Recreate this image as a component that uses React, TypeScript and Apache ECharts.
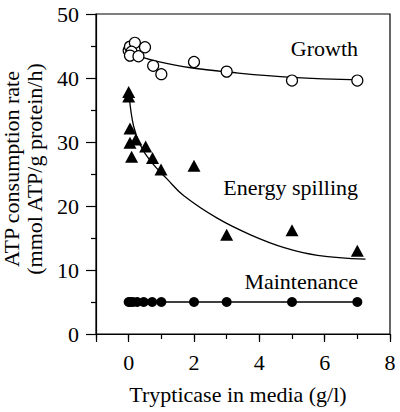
import React, { useEffect, useRef } from "react";
import * as echarts from "echarts";

// Growth (open circles)
const growthX = [0, 0.04, 0.19, 0.09, 0.04, 0.3, 0.5, 0.75, 1, 2, 3, 5, 7];
const growthY = [44.3, 44.9, 45.5, 44.1, 43.5, 43.4, 44.8, 41.9, 40.6, 42.5, 41.0, 39.6, 39.6];
// Growth fitted curve
const growthCurveX = [0.05, 0.3, 0.87, 1.9, 3.1, 5, 7.1];
const growthCurveY = [44.0, 43.4, 42.6, 41.6, 40.9, 40.1, 39.7];

// Energy spilling (filled triangles)
const energyX = [0, 0, 0.04, 0.04, 0.22, 0.52, 0.09, 0.73, 0.99, 2, 3, 5, 7];
const energyY = [37.8, 37.1, 32.1, 29.9, 30.4, 29.3, 27.7, 27.5, 25.7, 26.3, 15.5, 16.2, 13.0];
// Energy spilling fitted curve
const energyCurveX = [0.02, 0.15, 0.36, 0.67, 1.18, 1.69, 2.71, 3.73, 4.76, 5.78, 7.25];
const energyCurveY = [37.0, 32.5, 29.5, 27.0, 24.2, 21.6, 18.1, 15.5, 13.5, 12.3, 11.7];

// Maintenance (filled circles)
const maintX = [0, 0.05, 0.13, 0.26, 0.46, 0.72, 1, 2, 3, 5, 7];
const maintY = [5, 5, 5, 5, 5, 5, 5, 5, 5, 5, 5];

const xLabelValues = [0, 2, 4, 6, 8];
const seriesLabels = ["Growth", "Energy spilling", "Maintenance"];
const xTitle = "Trypticase in media (g/l)";
const yTitle = "ATP consumption rate\n(mmol ATP/g protein/h)";

const FONT = "'Liberation Serif', 'Times New Roman', serif";

const zip = (xs: number[], ys: number[]) => xs.map((x, i) => [x, ys[i]]);

export default function App() {
  const ref = useRef<HTMLDivElement>(null);
  useEffect(() => {
    const chart = echarts.init(ref.current!, null, { renderer: "svg" });
    const axisLine = { show: true, onZero: false, lineStyle: { color: "#000", width: 1.2 } };
    const txt = { fontFamily: FONT, fontSize: 22, color: "#000", lineHeight: 24 };
    chart.setOption({
      animation: false,
      backgroundColor: "#fff",
      textStyle: { fontFamily: FONT, color: "#000" },
      grid: {
        left: 96,
        right: 10,
        top: 14,
        bottom: 78,
        show: true,
        borderColor: "#000",
        borderWidth: 1.2,
        backgroundColor: "transparent",
        outerBoundsMode: "none",
        containLabel: false,
      },
      xAxis: [
        {
          type: "value",
          position: "bottom",
          min: -1,
          max: 8,
          interval: 1,
          axisLine,
          axisTick: { show: true, length: 5, lineStyle: { color: "#000", width: 1.2 } },
          axisLabel: { show: false },
          splitLine: { show: false },
        },
        {
          type: "value",
          position: "bottom",
          offset: 0,
          min: -1,
          max: 8,
          axisLine,
          axisTick: { show: true, length: 8, lineStyle: { color: "#000", width: 1.2 } },
          axisLabel: {
            show: true,
            ...txt,
            margin: 16,
            formatter: (v: number) => (xLabelValues.includes(v) ? String(v) : ""),
          },
          splitLine: { show: false },
          name: xTitle,
          nameLocation: "middle",
          nameGap: 48,
          nameTextStyle: { ...txt, padding: [0, 10, 0, 0] },
        },
      ],
      yAxis: {
        type: "value",
        min: 0,
        max: 50,
        interval: 10,
        axisLine,
        axisTick: { show: true, length: 10, lineStyle: { color: "#000", width: 1.2 } },
        minorTick: { show: true, splitNumber: 2, length: 5, lineStyle: { color: "#000", width: 1.2 } },
        axisLabel: { ...txt, margin: 17 },
        splitLine: { show: false },
        minorSplitLine: { show: false },
        name: yTitle,
        nameLocation: "middle",
        nameRotate: 90,
        nameGap: 41,
        nameTextStyle: { ...txt, lineHeight: 23, padding: [0, 0, 0, 10] },
      },
      graphic: [
        { type: "text", right: 42, top: 37, style: { text: seriesLabels[0], fontFamily: FONT, fontSize: 22, fill: "#000" } },
        { type: "text", right: 42, top: 176, style: { text: seriesLabels[1], fontFamily: FONT, fontSize: 22, fill: "#000" } },
        { type: "text", right: 42, top: 270, style: { text: seriesLabels[2], fontFamily: FONT, fontSize: 22, fill: "#000" } },
      ],
      series: [
        {
          type: "line",
          data: zip(growthCurveX, growthCurveY),
          smooth: 0.4,
          showSymbol: false,
          symbol: "none",
          lineStyle: { color: "#000", width: 1.3 },
          z: 1,
        },
        {
          type: "scatter",
          data: zip(growthX, growthY),
          symbol: "circle",
          symbolSize: 11,
          itemStyle: { color: "#fff", borderColor: "#000", borderWidth: 1.2, opacity: 1 },
          z: 3,
        },
        {
          type: "line",
          data: zip(energyCurveX, energyCurveY),
          smooth: 0.4,
          showSymbol: false,
          symbol: "none",
          lineStyle: { color: "#000", width: 1.3 },
          z: 1,
        },
        {
          type: "scatter",
          data: zip(energyX, energyY),
          symbol: "triangle",
          symbolSize: [13, 12],
          itemStyle: { color: "#000", opacity: 1 },
          z: 3,
        },
        {
          type: "line",
          data: zip(maintX, maintY),
          symbol: "circle",
          symbolSize: 10,
          showSymbol: true,
          lineStyle: { color: "#000", width: 1.3 },
          itemStyle: { color: "#000", borderWidth: 0 },
          z: 3,
        },
      ],
    });
    return () => chart.dispose();
  }, []);
  return (
    <div
      ref={ref}
      style={{ position: "absolute", left: 0, top: 0, width: 400, height: 412, background: "#fff" }}
    />
  );
}
